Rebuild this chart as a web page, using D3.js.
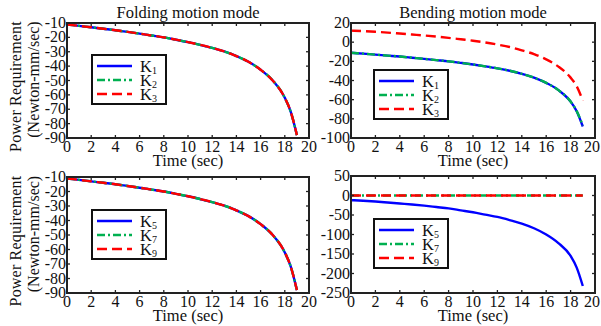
<!DOCTYPE html>
<html>
<head>
<meta charset="utf-8">
<script src="https://cdn.jsdelivr.net/npm/d3@7"></script>
<style>
  body { margin: 0; background: #fff; }
  text { font-family: "Liberation Serif", "Times New Roman", serif; fill: #111; }
</style>
</head>
<body>
<svg id="chart"></svg>
<script>
// time samples (sec)
const time = [0, 1, 2, 3, 4, 5, 6, 7, 8, 9, 10, 11, 12, 13, 14, 15, 16, 17, 18, 18.5, 19]

// folding mode, all stiffness cases overlap
const foldK1 = [-11, -12, -13, -14, -15, -16.2, -17.4, -18.7, -20, -21.6, -23.3, -25.2, -27.3, -29.8, -33, -37, -42.5, -50, -62, -72, -88]
const foldK2 = [-11, -12, -13, -14, -15, -16.2, -17.4, -18.7, -20, -21.6, -23.3, -25.2, -27.3, -29.8, -33, -37, -42.5, -50, -62, -72, -88]
const foldK3 = [-11, -12, -13, -14, -15, -16.2, -17.4, -18.7, -20, -21.6, -23.3, -25.2, -27.3, -29.8, -33, -37, -42.5, -50, -62, -72, -88]
const foldK5 = [-11, -12, -13, -14, -15, -16.2, -17.4, -18.7, -20, -21.6, -23.3, -25.2, -27.3, -29.8, -33, -37, -42.5, -50, -62, -72, -88]
const foldK7 = [-11, -12, -13, -14, -15, -16.2, -17.4, -18.7, -20, -21.6, -23.3, -25.2, -27.3, -29.8, -33, -37, -42.5, -50, -62, -72, -88]
const foldK9 = [-11, -12, -13, -14, -15, -16.2, -17.4, -18.7, -20, -21.6, -23.3, -25.2, -27.3, -29.8, -33, -37, -42.5, -50, -62, -72, -88]

// bending mode
const bendK1 = [-11, -12, -13, -14, -15, -16.2, -17.4, -18.7, -20, -21.6, -23.3, -25.2, -27.3, -29.8, -33, -37, -42.5, -50, -62, -72, -88]
const bendK2 = [-11, -12, -13, -14, -15, -16.2, -17.4, -18.7, -20, -21.6, -23.3, -25.2, -27.3, -29.8, -33, -37, -42.5, -50, -62, -72, -87]
const bendK3 = [12, 11.5, 10.8, 10, 9, 8, 7, 5.8, 4.5, 3, 1.5, -0.3, -2.5, -5, -8.5, -12.5, -18, -25.5, -37, -46, -61]
const bendK5 = [-12, -13.5, -15.5, -18, -20.5, -23, -26, -29.5, -33, -38, -43, -49, -55, -63, -72, -84, -100, -122, -155, -185, -232]
const bendK7 = [0, 0, 0, 0, 0, 0, 0, 0, 0, 0, 0, 0, 0, 0, 0, 0, 0, 0, 0, 0, 0]
const bendK9 = [0, 0, 0, 0, 0, 0, 0, 0, 0, 0, 0, 0, 0, 0, 0, 0, 0, 0, 0, 0, 0]

const xTicks = [0, 2, 4, 6, 8, 10, 12, 14, 16, 18, 20]
const foldTicks = [-90, -80, -70, -60, -50, -40, -30, -20, -10]
const bendTopTicks = [-100, -80, -60, -40, -20, 0, 20]
const bendBotTicks = [-250, -200, -150, -100, -50, 0, 50]

const titles = ['Folding motion mode', 'Bending motion mode']
const topKeys = ['1', '2', '3']
const botKeys = ['5', '7', '9']

const styles = [
  { color: '#0000ff', dash: null },
  { color: '#00b050', dash: '8,3,2,3' },
  { color: '#ff0000', dash: '10,5' }
]

const panels = [
  { box: [67, 23, 309, 138], dom: [-90, -10], ticks: foldTicks, series: [foldK1, foldK2, foldK3], keys: topKeys, title: titles[0], ylab: true, leg: [92, 55] },
  { box: [351, 23, 595, 138], dom: [-100, 20], ticks: bendTopTicks, series: [bendK1, bendK2, bendK3], keys: topKeys, title: titles[1], ylab: false, leg: [374, 70] },
  { box: [67, 177, 309, 293], dom: [-90, -10], ticks: foldTicks, series: [foldK5, foldK7, foldK9], keys: botKeys, title: null, ylab: true, leg: [92, 210] },
  { box: [351, 176, 595, 293], dom: [-250, 50], ticks: bendBotTicks, series: [bendK5, bendK7, bendK9], keys: botKeys, title: null, ylab: false, leg: [374, 219] }
]

const FS = 16.5
const svg = d3.select('#chart').attr('width', 601).attr('height', 326)

panels.forEach(p => {
  const [x0, y0, x1, y1] = p.box
  const x = d3.scaleLinear().domain([0, 20]).range([x0, x1])
  const y = d3.scaleLinear().domain(p.dom).range([y1, y0])
  const g = svg.append('g')

  // curves
  const line = d3.line()
    .x((d, i) => x(time[i]))
    .y(d => y(d))
    .curve(d3.curveMonotoneX)
  p.series.forEach((s, i) => {
    g.append('path')
      .attr('d', line(s))
      .attr('fill', 'none')
      .attr('stroke', styles[i].color)
      .attr('stroke-width', 2.4)
      .attr('stroke-dasharray', styles[i].dash)
  })

  // ticks, MATLAB style inside on all four sides
  const tk = g.append('g').attr('stroke', '#222').attr('stroke-width', 1.3)
  xTicks.forEach(t => {
    tk.append('line').attr('x1', x(t)).attr('x2', x(t)).attr('y1', y1).attr('y2', y1 - 3)
    tk.append('line').attr('x1', x(t)).attr('x2', x(t)).attr('y1', y0).attr('y2', y0 + 3)
  })
  p.ticks.forEach(t => {
    tk.append('line').attr('x1', x0).attr('x2', x0 + 3).attr('y1', y(t)).attr('y2', y(t))
    tk.append('line').attr('x1', x1).attr('x2', x1 - 3).attr('y1', y(t)).attr('y2', y(t))
  })

  // frame
  g.append('rect')
    .attr('x', x0).attr('y', y0)
    .attr('width', x1 - x0).attr('height', y1 - y0)
    .attr('fill', 'none').attr('stroke', '#222').attr('stroke-width', 2)

  // tick labels (keep the last one inside the page)
  g.selectAll('.xt').data(xTicks).enter().append('text')
    .attr('x', d => Math.min(x(d), 592)).attr('y', y1 + 14)
    .attr('text-anchor', 'middle').attr('font-size', 16)
    .text(d => d)
  g.selectAll('.yt').data(p.ticks).enter().append('text')
    .attr('x', x0 - 1).attr('y', d => y(d) + 5)
    .attr('text-anchor', 'end').attr('font-size', 16)
    .text(d => d)

  g.append('text')
    .attr('x', (x0 + x1) / 2).attr('y', y1 + 28)
    .attr('text-anchor', 'middle').attr('font-size', FS)
    .text('Time (sec)')

  if (p.title) {
    g.append('text')
      .attr('x', (x0 + x1) / 2).attr('y', y0 - 5)
      .attr('text-anchor', 'middle').attr('font-size', FS)
      .text(p.title)
  }

  if (p.ylab) {
    const cy = (y0 + y1) / 2
    g.append('text')
      .attr('transform', `translate(21,${cy + 6}) rotate(-90)`)
      .attr('text-anchor', 'middle').attr('font-size', 16)
      .attr('letter-spacing', 0.2)
      .text('Power Requirement')
    g.append('text')
      .attr('transform', `translate(39,${cy - 1}) rotate(-90)`)
      .attr('text-anchor', 'middle').attr('font-size', 16)
      .text('(Newton-mm/sec)')
  }

  // legend
  const [lx, ly] = p.leg
  const lg = g.append('g')
  lg.append('rect')
    .attr('x', lx).attr('y', ly).attr('width', 74).attr('height', 49)
    .attr('fill', '#fff').attr('stroke', '#111').attr('stroke-width', 2)
  p.keys.forEach((k, i) => {
    const ry = ly + 11 + i * 14
    lg.append('line')
      .attr('x1', lx + 5).attr('x2', lx + 40)
      .attr('y1', ry).attr('y2', ry)
      .attr('stroke', styles[i].color).attr('stroke-width', 2.4)
      .attr('stroke-dasharray', styles[i].dash)
    const t = lg.append('text')
      .attr('x', lx + 48).attr('y', ry + 6).attr('font-size', FS)
    t.append('tspan').text('K')
    t.append('tspan').attr('font-size', 10).attr('dy', 2).text(k)
  })
})
</script>
</body>
</html>
